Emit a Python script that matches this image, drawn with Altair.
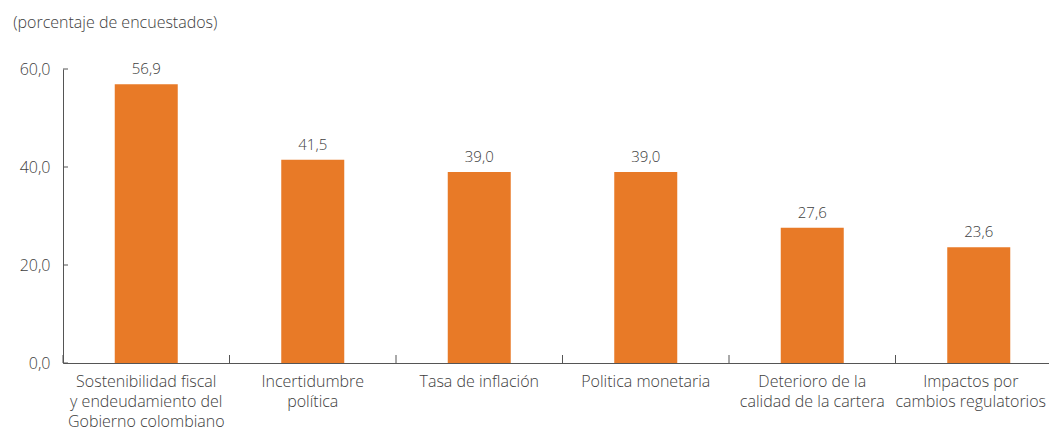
import altair as alt
import pandas as pd

categories = [
    "Sostenibilidad fiscal|y endeudamiento del|Gobierno colombiano",
    "Incertidumbre|política",
    "Tasa de inflación",
    "Politica monetaria",
    "Deterioro de la|calidad de la cartera",
    "Impactos por|cambios regulatorios",
]
values = [56.9, 41.5, 39.0, 39.0, 27.6, 23.6]
y_ticks = [0, 20, 40, 60]

FONT = "Open Sans"
TXT = "#404040"
AX = "#555555"
ORANGE = "#E87A27"
H = 294
W = 986
FW = 300

df = pd.DataFrame({"cat": categories, "val": values})
df["lbl"] = [f"{v:.1f}".replace(".", ",") for v in values]
ticks_df = pd.DataFrame({"t": y_ticks})

xscale = alt.Scale(domain=categories, paddingInner=0, paddingOuter=0, range=[0, 999])
yscale = alt.Scale(domain=[0, 60], nice=False)

last_test = "datum.value == '" + categories[-1] + "'"

x_enc = alt.X(
    "cat:N",
    sort=categories,
    scale=xscale,
    title=None,
    axis=alt.Axis(
        labelExpr="split(datum.label, '|')",
        labelAngle=0,
        labelFont=FONT,
        labelFontSize=16,
        labelFontWeight=FW,
        labelColor=TXT,
        labelLineHeight=20,
        labelPadding=10,
        labelOffset={"condition": {"test": last_test, "value": -8}, "value": 0},
        ticks=False,
        domainColor=AX,
        domainWidth=1,
        grid=False,
        labelLimit=300,
    ),
)

y_enc = alt.Y(
    "val:Q",
    scale=yscale,
    title=None,
    axis=alt.Axis(
        values=y_ticks,
        labelExpr="replace(format(datum.value, '.1f'), '.', ',')",
        labelFont=FONT,
        labelFontSize=16,
        labelFontWeight=FW,
        labelColor=TXT,
        labelPadding=13,
        ticks=False,
        domainColor=AX,
        domainWidth=1,
        grid=False,
    ),
)

base = alt.Chart(df)

bars = base.mark_bar(color=ORANGE, size=63).encode(x=x_enc, y=y_enc)

labels = base.mark_text(
    font=FONT, fontSize=15, fontWeight=FW, color=TXT, baseline="bottom", dy=-7
).encode(x=alt.X("cat:N", sort=categories, scale=xscale), y=alt.Y("val:Q", scale=yscale), text="lbl:N")

xticks = base.mark_rule(color=AX, strokeWidth=1).encode(
    x=alt.X("cat:N", sort=categories, scale=xscale, bandPosition=0),
    y=alt.value(H - 8),
    y2=alt.value(H),
)

yticks = alt.Chart(ticks_df).mark_rule(color=AX, strokeWidth=1).encode(
    y=alt.Y("t:Q", scale=yscale),
    x=alt.value(0),
    x2=alt.value(5),
)

chart = (
    alt.layer(bars, labels, xticks, yticks)
    .properties(
        width=W,
        height=H,
        autosize=alt.AutoSizeParams(type="none"),
        padding={"left": 55, "top": 61, "right": 0, "bottom": 68},
        title=alt.TitleParams(
            "(porcentaje de encuestados)",
            anchor="start",
            frame="bounds",
            font=FONT,
            fontSize=16,
            fontWeight=FW,
            color=TXT,
            offset=30,
            dx=-6,
        ),
    )
    .configure_view(stroke=None)
)

chart.save("out.html", embed_options={"renderer": "svg", "actions": False})
